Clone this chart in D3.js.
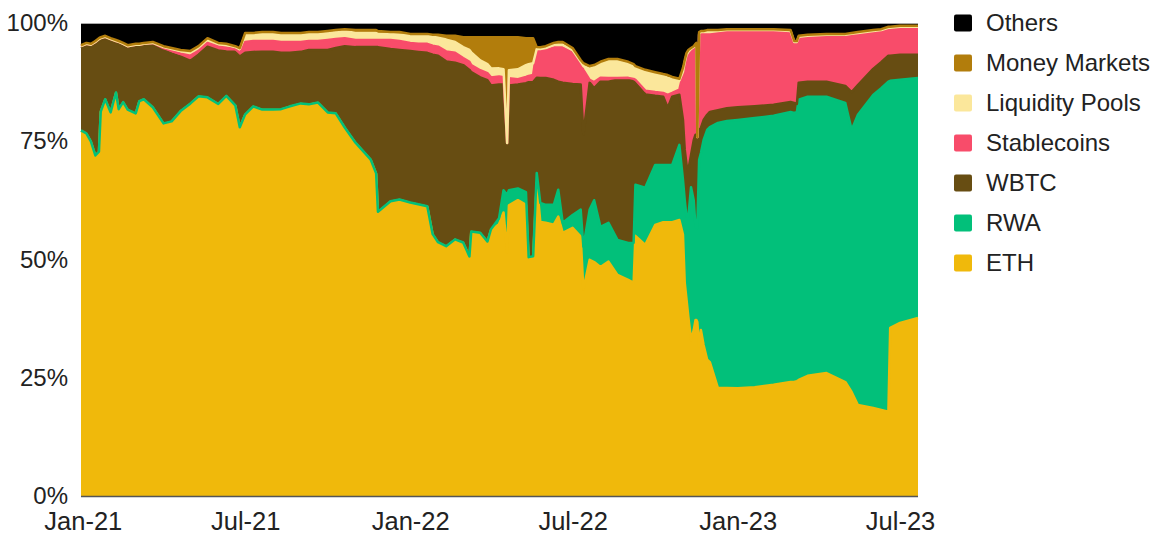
<!DOCTYPE html>
<html><head><meta charset="utf-8">
<script src="https://cdn.jsdelivr.net/npm/d3@7"></script>
<style>
html,body{margin:0;padding:0;background:#fff;}
svg{display:block;font-family:"Liberation Sans",Arial,Helvetica,sans-serif;}
</style></head><body>
<svg id="chart" width="1154" height="534"></svg>
<script>
const dates = ["2020-12-30","2021-01-05","2021-01-10","2021-01-15","2021-01-19","2021-01-21","2021-01-26","2021-02-01","2021-02-07","2021-02-10","2021-02-15","2021-02-20","2021-03-01","2021-03-05","2021-03-10","2021-03-20","2021-04-01","2021-04-10","2021-04-20","2021-05-01","2021-05-10","2021-05-20","2021-06-01","2021-06-10","2021-06-20","2021-06-25","2021-07-01","2021-07-10","2021-07-20","2021-08-01","2021-08-10","2021-08-20","2021-09-01","2021-09-10","2021-09-20","2021-10-01","2021-10-10","2021-10-20","2021-11-01","2021-11-10","2021-11-18","2021-11-24","2021-11-26","2021-12-10","2021-12-20","2022-01-01","2022-01-10","2022-01-20","2022-01-26","2022-02-01","2022-02-10","2022-02-20","2022-03-01","2022-03-08","2022-03-10","2022-03-20","2022-03-28","2022-04-01","2022-04-10","2022-04-15","2022-04-19","2022-04-21","2022-05-01","2022-05-10","2022-05-13","2022-05-18","2022-05-22","2022-05-26","2022-06-01","2022-06-10","2022-06-15","2022-06-20","2022-07-01","2022-07-10","2022-07-13","2022-07-20","2022-07-25","2022-08-01","2022-08-10","2022-08-20","2022-09-01","2022-09-07","2022-09-09","2022-09-20","2022-10-01","2022-10-10","2022-10-15","2022-10-20","2022-10-28","2022-11-01","2022-11-03","2022-11-05","2022-11-07","2022-11-10","2022-11-13","2022-11-15","2022-11-16","2022-11-17","2022-11-19","2022-11-21","2022-11-24","2022-11-28","2022-12-01","2022-12-10","2022-12-20","2023-01-01","2023-01-20","2023-02-10","2023-03-01","2023-03-05","2023-03-08","2023-03-10","2023-03-20","2023-04-10","2023-05-01","2023-05-08","2023-05-15","2023-06-01","2023-06-10","2023-06-18","2023-06-20","2023-07-01","2023-07-21"];

const eth = [77.2,76.5,74.8,71.9,72.7,81.2,83.7,81.0,85.2,81.6,83.1,81.6,80.8,83.3,83.7,82.0,78.6,79.1,81.2,82.9,84.4,84.1,82.7,84.4,82.5,77.8,80.5,82.2,81.6,81.6,81.6,82.2,82.9,82.7,83.1,81.0,80.8,77.8,74.6,72.7,71.0,68.1,60.0,62.2,62.6,61.9,61.5,61.1,55.2,53.5,52.6,54.1,53.5,50.5,55.8,55.6,53.7,56.2,57.5,60.0,51.6,61.5,62.6,61.5,50.3,50.3,66.2,57.9,57.7,57.3,59.0,55.6,56.7,54.8,43.6,49.9,49.5,48.4,49.5,46.7,45.7,45.0,55.0,53.1,57.3,57.9,57.9,57.9,58.4,55.2,45.0,41.4,37.8,33.0,35.1,37.2,37.2,36.8,31.5,35.1,31.9,28.8,28.3,22.8,22.8,22.8,23.0,23.5,24.1,24.1,24.3,24.5,25.4,26.0,24.1,22.0,19.2,18.6,18.2,17.8,35.5,36.6,37.6];

const rwa = [0.1,0.1,0.1,0.1,0.1,0.1,0.1,0.1,0.1,0.1,0.1,0.1,0.1,0.1,0.1,0.1,0.1,0.1,0.1,0.1,0.1,0.1,0.1,0.1,0.1,0.1,0.1,0.1,0.1,0.1,0.1,0.1,0.1,0.1,0.1,0.1,0.1,0.1,0.1,0.1,0.1,0.1,0.1,0.1,0.1,0.1,0.1,0.1,0.1,0.1,0.1,0.1,0.1,0.1,0.1,0.1,0.1,0.2,1.3,4.7,12.1,3.2,2.5,2.7,0.2,0.4,2.1,4.0,3.8,4.2,5.7,2.1,2.7,5.7,9.1,10.6,13.1,8.5,8.2,7.4,7.8,8.5,10.8,12.1,12.7,12.1,12.1,12.1,15.9,11.6,17.5,17.5,21.1,32.3,27.5,19.7,19.7,19.9,39.5,37.4,43.3,48.6,49.7,56.0,56.4,56.7,56.9,56.9,57.1,56.9,56.9,59.2,59.0,58.4,59.0,55.4,61.3,66.2,68.1,69.8,52.2,51.4,50.7];

const wbtc = [17.4,18.5,20.0,23.6,23.4,15.1,12.8,15.1,10.5,13.8,11.9,13.0,14.1,11.5,11.3,13.2,15.5,14.3,11.5,9.0,8.8,10.7,11.3,9.4,11.3,14.9,13.0,11.5,12.2,12.2,11.9,11.3,10.9,11.5,11.1,13.2,13.8,17.2,20.2,22.1,23.8,26.7,34.8,32.2,31.6,32.0,32.2,32.4,37.9,39.4,39.0,37.3,37.5,39.4,33.7,32.9,34.1,30.4,28.3,22.4,11.0,22.2,22.0,23.0,37.0,36.8,20.1,26.4,26.8,26.4,22.8,29.6,27.7,26.4,23.7,26.8,23.7,30.7,29.8,33.8,34.5,34.2,21.6,19.7,14.6,14.4,12.1,14.4,10.6,12.7,10.6,11.0,9.9,6.8,12.7,19.5,19.5,19.2,6.3,5.3,4.2,3.2,3.2,2.7,2.7,2.7,2.5,2.3,2.1,2.1,1.7,3.6,3.2,3.2,3.6,8.0,6.3,5.5,5.5,5.5,5.3,5.3,4.9];

const stablecoins = [0.4,0.4,0.4,0.4,0.4,0.4,0.4,0.4,0.4,0.4,0.4,0.4,0.4,0.4,0.4,0.4,0.4,0.6,0.6,1.1,0.8,0.8,0.8,0.8,0.6,0.8,2.3,2.3,2.3,2.3,2.3,2.3,2.1,1.9,1.9,2.1,1.9,1.7,1.5,1.5,1.5,1.5,1.5,1.9,1.9,1.7,1.7,1.9,1.9,1.9,2.1,2.1,1.5,1.7,1.5,1.5,1.5,1.7,1.7,1.5,0,1.5,1.1,1.3,1.3,1.5,5.9,5.9,5.9,6.8,7.2,7.4,6.6,4.2,13.7,0.6,1.3,0.8,0.8,0.4,0.4,0.4,0.6,0.8,0.8,0.8,2.7,0.8,1.1,9.5,18.2,22.8,24.5,22.0,19.5,18.8,19.0,0,20.1,20.1,18.4,17.3,16.7,16.5,16.3,16.1,15.9,15.6,14.8,12.7,12.9,9.5,9.5,9.7,10.6,12.1,10.8,7.8,6.6,5.7,5.7,5.7,5.7];

const liquidityPools = [0,0,0,0,0,0,0,0,0,0,0,0,0,0,0,0,0.2,0.4,0.6,0.8,0.8,0.8,0.6,0.6,0.4,0.8,1.5,1.3,1.5,1.5,1.5,1.5,1.5,1.5,1.5,1.5,1.5,1.5,1.5,1.5,1.5,1.5,1.3,1.3,1.3,1.7,1.9,1.9,1.9,1.9,2.5,2.3,2.3,2.5,2.7,2.1,1.9,1.9,1.7,1.7,0,1.7,2.1,2.5,2.5,2.5,0.2,0.2,0.4,0.6,0.6,0.6,0.6,0.6,0.8,2.3,3.2,3.0,3.6,3.6,3.0,2.7,2.5,4.0,3.8,3.6,3.6,3.0,1.9,0.6,0.4,0.4,0.4,0.4,0.2,0.2,0.2,0,0.2,0.2,0.2,0.2,0.2,0.2,0.2,0.2,0.2,0.2,0.2,0.2,0.2,0.2,0.2,0.2,0.2,0.2,0.2,0.2,0.2,0.2,0.2,0.2,0.2];

const moneyMarkets = [0.2,0.2,0.2,0.2,0.2,0.2,0.2,0.2,0.2,0.2,0.2,0.2,0.2,0.2,0.2,0.2,0.2,0.2,0.2,0.2,0.2,0.2,0.2,0.2,0.2,0.2,0.4,0.4,0.4,0.4,0.4,0.4,0.4,0.4,0.4,0.4,0.4,0.4,0.6,0.6,0.6,0.6,0.6,0.4,0.6,0.2,0.2,0.2,0.4,0.6,0.8,1.3,2.1,2.7,3.2,4.9,5.7,6.6,6.6,6.8,22.4,7.0,6.8,5.7,5.5,5.3,0.4,0.4,0.4,0.4,0.6,0.6,0.4,0.4,0.6,0.6,0.4,0.4,0.4,0.4,0.4,0.4,0.4,0.4,0.4,0.4,0.6,0.4,0.4,0.8,0.4,0.4,0.4,0.2,0.2,0.2,0.2,0,0.4,0.2,0.2,0.4,0.4,0.2,0.2,0.2,0.2,0.2,0.2,0.2,0.2,0.2,0.2,0.2,0.2,0.2,0.2,0.2,0.2,0.2,0.2,0.2,0.2];

const others = [4.7,4.2,4.4,3.8,3.2,3.0,2.7,3.2,3.6,3.8,4.2,4.7,4.4,4.4,4.2,4.0,4.9,5.3,5.7,5.9,4.9,3.2,4.2,4.4,4.9,5.3,2.1,2.1,1.9,1.9,2.1,2.1,2.1,1.9,1.9,1.7,1.5,1.3,1.5,1.5,1.5,1.5,1.7,1.9,1.9,2.3,2.3,2.3,2.5,2.5,2.7,2.7,3.0,3.0,3.0,3.0,3.0,3.0,3.0,3.0,3.0,3.0,3.0,3.2,3.2,3.2,5.1,5.1,4.9,4.2,4.0,4.0,5.3,7.8,8.5,9.1,8.9,8.2,7.6,7.6,8.2,8.7,9.1,9.9,10.4,10.8,11.0,11.4,11.8,9.5,7.8,6.3,5.7,5.3,4.9,4.4,4.2,24.1,1.9,1.7,1.7,1.5,1.5,1.5,1.3,1.3,1.3,1.3,1.5,3.8,3.8,2.7,2.5,2.3,2.3,2.1,1.9,1.5,1.3,0.8,0.8,0.6,0.6];

const seriesNames = ["ETH","RWA","WBTC","Stablecoins","Liquidity Pools","Money Markets","Others"];
const seriesValues = [eth, rwa, wbtc, stablecoins, liquidityPools, moneyMarkets, others];
const colors = ["#f0b90b","#02c07a","#674d12","#f84c6a","#fbe79b","#b27d0c","#000000"];
const yTickValues = [0, 0.25, 0.5, 0.75, 1];
const xTickLabels = ["2021-01-01","2021-07-01","2022-01-01","2022-07-01","2023-01-01","2023-07-01"];
const xDomain = ["2020-12-30","2023-07-21"];

const parse = d3.timeParse("%Y-%m-%d");
const rows = dates.map((d, i) => {
  const r = {date: parse(d)};
  seriesNames.forEach((k, j) => r[k] = seriesValues[j][i]);
  return r;
});

const L = 81, R = 918, T = 23, B = 496;
const svg = d3.select("#chart");
const x = d3.scaleTime().domain(xDomain.map(parse)).range([L, R]);
const y = d3.scaleLinear().domain([0, 1]).range([B, T]);

const stacked = d3.stack().keys(seriesNames).offset(d3.stackOffsetExpand)(rows);

const area = d3.area().x(d => x(d.data.date)).y0(d => y(d[0])).y1(d => y(d[1]));
const line = d3.line().x(d => x(d.data.date)).y(d => y(d[1]));

svg.append("g").selectAll("path").data(stacked).join("path")
  .attr("d", area).attr("fill", (d, i) => colors[i]);

svg.append("g").selectAll("path").data(stacked.slice(0, 6)).join("path")
  .attr("d", line).attr("fill", "none")
  .attr("stroke", (d, i) => colors[i]).attr("stroke-width", 2.5)
  .attr("stroke-linejoin", "round");

// top border line
svg.append("line").attr("x1", L).attr("x2", R).attr("y1", T + 0.5).attr("y2", T + 0.5)
  .attr("stroke", "#aaaaaa").attr("stroke-width", 1);

// y axis
const yAxis = svg.append("g").attr("transform", `translate(${L},0)`)
  .call(d3.axisLeft(y).tickValues(yTickValues).tickFormat(d3.format(".0%")).tickSize(0).tickPadding(13));
yAxis.select(".domain").remove();
yAxis.selectAll("text").attr("font-size", 24).attr("fill", "#222")
  .attr("font-family", '"Liberation Sans", Arial, sans-serif');

// x axis
const xAxis = svg.append("g").attr("transform", `translate(0,${B})`)
  .call(d3.axisBottom(x).tickValues(xTickLabels.map(parse)).tickFormat(d3.timeFormat("%b-%y")).tickSize(0).tickPadding(16));
xAxis.select(".domain").remove();
xAxis.selectAll("text").attr("font-size", 25.5).attr("fill", "#222")
  .attr("font-family", '"Liberation Sans", Arial, sans-serif');

svg.append("line").attr("x1", L).attr("x2", R).attr("y1", B + 0.5).attr("y2", B + 0.5)
  .attr("stroke", "#555555").attr("stroke-width", 1.6);

// legend
const legendOrder = seriesNames.map((n, i) => ({name: n, color: colors[i]})).reverse();
const lg = svg.append("g");
legendOrder.forEach((it, i) => {
  const cy = 23 + i * 40;
  lg.append("rect").attr("x", 954).attr("y", cy - 8.5).attr("width", 18).attr("height", 17)
    .attr("rx", 2).attr("fill", it.color);
  lg.append("text").attr("x", 986).attr("y", cy).attr("dy", "0.35em")
    .attr("font-size", 24).attr("fill", "#222").text(it.name);
});
</script>
</body></html>
